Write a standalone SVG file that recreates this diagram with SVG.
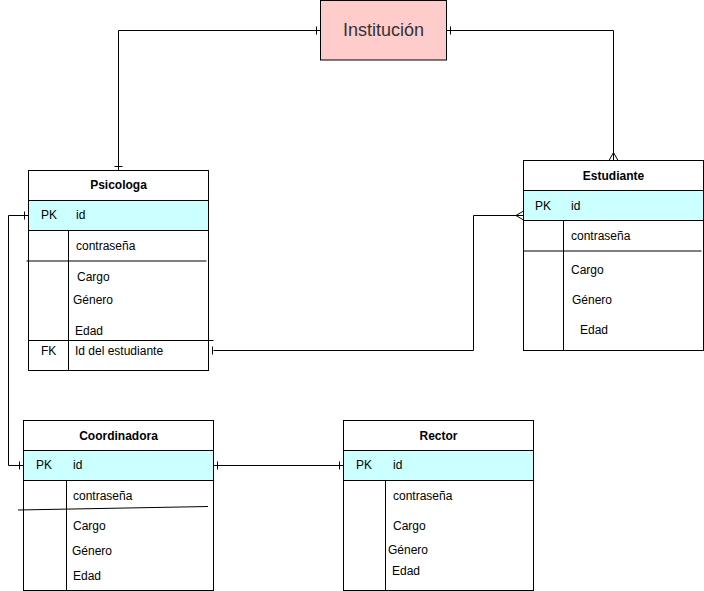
<svg xmlns="http://www.w3.org/2000/svg" width="704" height="591" viewBox="0 0 704 591">
<style>
text{font-family:"Liberation Sans",Arial,sans-serif;font-size:12px;fill:#000}
.h{font-weight:bold;text-anchor:middle}
.box{fill:#fff;stroke:#000;stroke-width:1}
.pk{fill:#ccffff;stroke:#000;stroke-width:1}
.ln{fill:none;stroke:#000;stroke-width:1}
</style>
<rect width="704" height="591" fill="#fff"/>
<g id="connectors" class="ln" fill="none" stroke="#000">
<path d="M320.5,30.5 H118.5 V170.5"/>
<path d="M316.5,26.5 V34.5 M114.5,166.5 H122.5"/>
<path d="M446.5,30.5 H613.5 V160.5"/>
<path d="M450.5,26.5 V34.5 M609,160.5 L613.5,152.5 L618,160.5"/>
<path d="M213.5,350.5 H473.5 V215.5 H523.5"/>
<path d="M212.5,346.5 V354.5 M523.5,211 L516,215.5 L523.5,220"/>
<path d="M28.5,215.5 H8.5 V465.5 H23.5"/>
<path d="M24.5,211.5 V219.5 M19.5,461.5 V469.5"/>
<path d="M213.5,465.5 H343.5"/>
<path d="M217.5,461.5 V469.5 M339.5,461.5 V469.5"/>
</g>
<g id="institucion">
<rect x="320.5" y="0.5" width="126" height="59.5" fill="#ffcccc" stroke="#000"/>
<text x="383.5" y="36" style="font-size:18px;fill:#333;text-anchor:middle">Institución</text>
</g>
<g id="psicologa">
<rect class="box" x="28.5" y="170.5" width="180" height="200"/>
<rect class="pk" x="28.5" y="200.5" width="180" height="30"/>
<path class="ln" d="M68.5,230.5 V370.5 M26.5,261 H206.5 M28.5,340.5 H213.5"/>
<text class="h" x="118.5" y="189">Psicologa</text>
<text x="41" y="219">PK</text><text x="76" y="219">id</text>
<text x="76" y="250">contraseña</text>
<text x="77" y="281">Cargo</text>
<text x="73" y="304">Género</text>
<text x="75" y="335">Edad</text>
<text x="41" y="355">FK</text><text x="75" y="355">Id del estudiante</text>
</g>
<g id="estudiante">
<rect class="box" x="523.5" y="160.5" width="180" height="190"/>
<rect class="pk" x="523.5" y="190.5" width="180" height="30"/>
<path class="ln" d="M563.5,220.5 V350.5 M523.5,251 H701.5"/>
<text class="h" x="613.5" y="180">Estudiante</text>
<text x="535" y="210">PK</text><text x="571" y="210">id</text>
<text x="571" y="240">contraseña</text>
<text x="571" y="274">Cargo</text>
<text x="572" y="304">Género</text>
<text x="580" y="334">Edad</text>
</g>
<g id="coordinadora">
<rect class="box" x="23.5" y="420.5" width="190" height="170"/>
<rect class="pk" x="23.5" y="450.5" width="190" height="30"/>
<path class="ln" d="M66.5,480.5 V590.5 M18,510 L208,506.5"/>
<text class="h" x="118.5" y="440">Coordinadora</text>
<text x="36" y="469">PK</text><text x="73" y="469">id</text>
<text x="73" y="500">contraseña</text>
<text x="73" y="530">Cargo</text>
<text x="72" y="555">Género</text>
<text x="73" y="580">Edad</text>
</g>
<g id="rector">
<rect class="box" x="343.5" y="420.5" width="190" height="170"/>
<rect class="pk" x="343.5" y="450.5" width="190" height="30"/>
<path class="ln" d="M385.5,480.5 V590.5"/>
<text class="h" x="438.5" y="440">Rector</text>
<text x="356" y="469">PK</text><text x="393" y="469">id</text>
<text x="393" y="500">contraseña</text>
<text x="393" y="530">Cargo</text>
<text x="388" y="554">Género</text>
<text x="392" y="575">Edad</text>
</g>
</svg>
